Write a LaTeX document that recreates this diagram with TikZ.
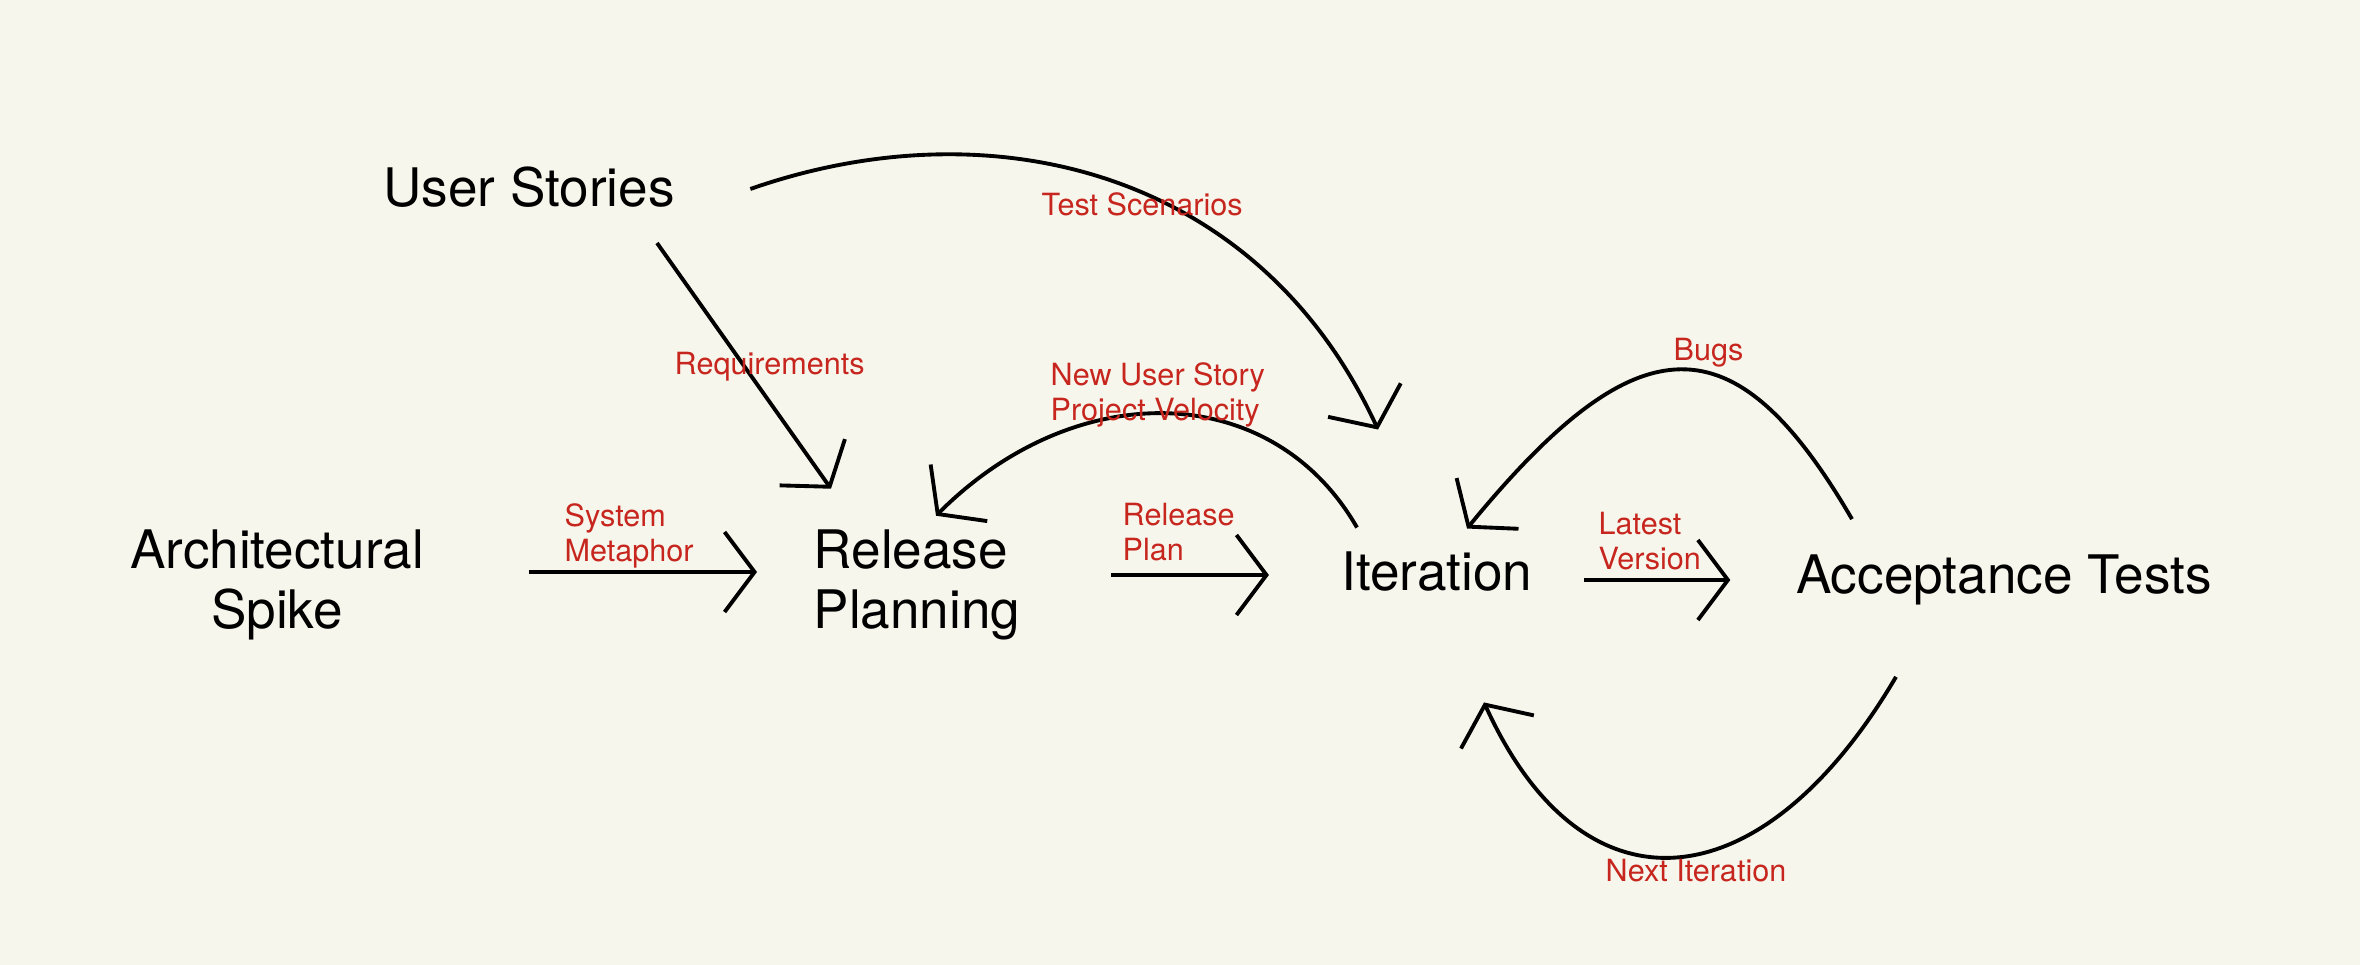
\documentclass[tikz,border=0pt]{standalone}
\usepackage{fontspec}
\setmainfont{TeX Gyre Heros}
\usetikzlibrary{arrows.meta}
\definecolor{paper}{RGB}{247,246,236}
\definecolor{labelred}{RGB}{198,38,30}
\tikzset{
  phase/.style={inner sep=0pt, font=\fontsize{15.1}{17.3}\selectfont},
  lbl/.style={inner sep=0pt, anchor=north west, align=left, text=labelred, font=\fontsize{8.7}{9.95}\selectfont},
  flow/.style={-{Straight Barb[length=3mm, width=8mm]}, line width=1.1pt}
}

\begin{document}
\begin{tikzpicture}[x=0.01cm, y=-0.01cm]

% background
\fill[paper] (0,0) rectangle (2360,965);
\useasboundingbox (0,0) rectangle (2360,965);

% phases
\node[phase] (stories) at (529,187) {User Stories};
\node[phase, align=center] (spike) at (277,585) {Architectural\\Spike};
\node[phase, align=left, anchor=west] (release) at (813,585) {Release\\Planning};
\node[phase] (iter) at (1437,572) {Iteration};
\node[phase] (accept) at (2004,580) {Acceptance Tests};

% straight flows
\draw[flow] ([shift={(104,-13)}]spike.east) -- ([shift={(-56,-13)}]release.west);
\draw[flow] ([shift={(90,-10)}]release.east) -- ([shift={(-72,3)}]iter.west);
\draw[flow] ([shift={(51,8)}]iter.east) -- ([shift={(-65,0)}]accept.west);
\draw[flow] ([shift={(128,35)}]stories.south) -- ([shift={(18,-40)}]release.north west);

% curved flows
\draw[flow] ([shift={(75,2)}]stories.east)
  .. controls +(240,-84) and +(-120,-260) .. ([shift={(-59,-122)}]iter.north);
\draw[flow] ([shift={(-80,-24)}]iter.north)
  .. controls +(-85,-148) and +(140,-140) .. ([shift={(123,-13)}]release.north west);
\draw[flow] ([shift={(-152,-35)}]accept.north)
  .. controls +(-117,-201) and +(172,-210) .. ([shift={(30,-23)}]iter.north);
\draw[flow] ([shift={(-108,71)}]accept.south)
  .. controls +(-133,226) and +(100,220) .. ([shift={(47,110)}]iter.south);

% labels
\node[lbl] (testlbl) at (1041,192) {Test Scenarios};
\node[lbl] (reqlbl) at (674,352) {Requirements};
\node[lbl] (velolbl) at (1050,362) {New User Story\\Project Velocity};
\node[lbl] (metalbl) at (564,503) {System\\Metaphor};
\node[lbl] (planlbl) at (1122,503) {Release\\Plan};
\node[lbl] (verslbl) at (1598,512) {Latest\\Version};
\node[lbl] (buglbl) at (1673,338) {Bugs};
\node[lbl] (nextlbl) at (1605,859) {Next Iteration};

\end{tikzpicture}
\end{document}
